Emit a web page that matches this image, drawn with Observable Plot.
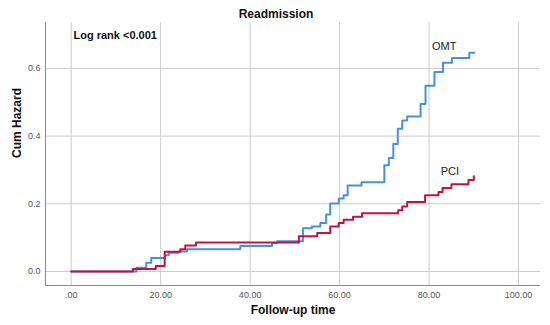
<!DOCTYPE html>
<html><head><meta charset="utf-8">
<script src="https://cdn.jsdelivr.net/npm/d3@7"></script>
<script src="https://cdn.jsdelivr.net/npm/@observablehq/plot@0.6"></script>
<style>body{margin:0;background:#fff}</style>
</head><body><div id="chart"></div>
<script>
const chartTitle = "Readmission";
const xLabel = "Follow-up time";
const yLabel = "Cum Hazard";
const testNote = "Log rank <0.001";
const seriesNames = ["OMT", "PCI"];
const xTicks = [0, 20, 40, 60, 80, 100];
const yTicks = [0, 0.2, 0.4, 0.6];

const omtTime = [0, 14.6, 16.8, 17.9, 21.0, 21.8, 24.0, 25.9, 37.8, 44.9, 46.0, 51.8, 53.8, 55.7, 57.0, 57.9, 59.8, 60.9, 61.8, 64.9, 70.0, 71.0, 72.0, 73.0, 74.0, 75.1, 78.1, 79.2, 81.2, 83.1, 85.1, 89.0, 90.1];
const omtHazard = [0, 0.011, 0.026, 0.040, 0.048, 0.055, 0.059, 0.066, 0.075, 0.084, 0.089, 0.128, 0.133, 0.143, 0.168, 0.201, 0.216, 0.225, 0.254, 0.264, 0.314, 0.335, 0.377, 0.422, 0.446, 0.458, 0.495, 0.549, 0.589, 0.617, 0.631, 0.646, 0.646];

const pciTime = [0, 13.8, 18.9, 20.9, 24.4, 25.5, 27.9, 50.9, 55.0, 57.9, 59.8, 60.9, 63.0, 65.0, 73.1, 74.0, 75.1, 79.1, 82.1, 83.0, 85.0, 88.8, 90.0];
const pciHazard = [0, 0.007, 0.016, 0.058, 0.066, 0.077, 0.086, 0.104, 0.114, 0.133, 0.143, 0.153, 0.162, 0.172, 0.181, 0.192, 0.205, 0.225, 0.235, 0.247, 0.258, 0.270, 0.281];

const rows = [];
omtTime.forEach((t, i) => rows.push({group: seriesNames[0], time: t, hazard: omtHazard[i]}));
pciTime.forEach((t, i) => rows.push({group: seriesNames[1], time: t, hazard: pciHazard[i]}));

const xDomain = [-5.74, 104.9];
const yDomain = [-0.0414, 0.7356];
const colors = ["#4a8fdb", "#c8103e"];
const font = "'Liberation Sans', Arial, sans-serif";

const chart = Plot.plot({
  width: 550, height: 325,
  marginLeft: 45, marginRight: 10, marginTop: 22, marginBottom: 40,
  style: {fontFamily: font, background: "#fff", overflow: "visible"},
  x: {domain: xDomain},
  y: {domain: yDomain},
  color: {domain: seriesNames, range: colors},
  marks: [
    Plot.gridX(xTicks, {stroke: "#cccccc", strokeOpacity: 1}),
    Plot.gridY(yTicks, {stroke: "#cccccc", strokeOpacity: 1}),
    Plot.ruleX([xDomain[0]], {stroke: "#8a8a8a"}),
    Plot.ruleY([yDomain[0]], {stroke: "#8a8a8a"}),
    Plot.axisX(xTicks, {tickSize: 0, tickPadding: 6, fontSize: 9, fill: "#555",
      tickFormat: d => d === 0 ? ".00" : d.toFixed(2), label: null}),
    Plot.axisY(yTicks, {tickSize: 0, tickPadding: 5, fontSize: 9, fill: "#555",
      tickFormat: d => d.toFixed(1), label: null}),
    Plot.line(rows, {x: "time", y: "hazard", z: "group", stroke: "group", curve: "step-after", strokeWidth: 2}),
    Plot.text(rows.filter(d => d.group === seriesNames[0]), Plot.selectLast({x: "time", y: "hazard", text: "group", dx: -30, dy: -6, fontSize: 11, fill: "#222"})),
    Plot.text(rows.filter(d => d.group === seriesNames[1]), Plot.selectLast({x: "time", y: "hazard", text: "group", dx: -24, dy: -5, fontSize: 11, fill: "#222"})),
    Plot.text([testNote], {frameAnchor: "top-left", dx: 28, dy: 13, textAnchor: "start", lineAnchor: "middle", fontWeight: "bold", fontSize: 11, fill: "#111"}),
    Plot.text([chartTitle], {frameAnchor: "top", dx: -17, dy: -8, lineAnchor: "middle", fontWeight: "bold", fontSize: 12, fill: "#111"}),
    Plot.text([xLabel], {frameAnchor: "bottom", dy: 25, lineAnchor: "middle", fontWeight: "bold", fontSize: 12, fill: "#111"}),
    Plot.text([yLabel], {frameAnchor: "left", dx: -28, dy: 4, rotate: -90, lineAnchor: "middle", fontWeight: "bold", fontSize: 12, fill: "#111"})
  ]
});
document.getElementById("chart").appendChild(chart);
</script>
</body></html>
